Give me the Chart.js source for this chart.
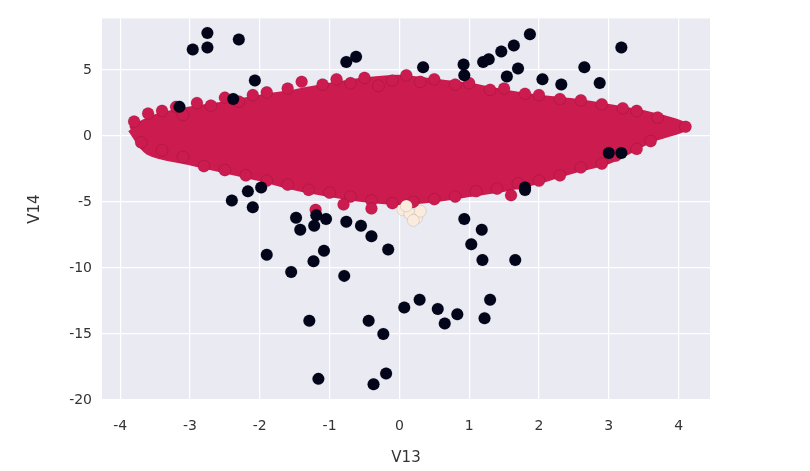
<!DOCTYPE html>
<html><head><meta charset="utf-8">
<script src="https://cdn.jsdelivr.net/npm/chart.js@4"></script>
<style>body{margin:0;background:#fff}#c{width:810px;height:471px}</style>
</head><body><div id="c"><canvas id="chart"></canvas></div>
<script>
// outline of the dense red cloud (V13, V14)
var blobX = [-3.85,-3.5,-3,-2.5,-2,-1.5,-1,-0.5,0,0.5,1,1.5,2,2.5,3,3.6,4.1,3.6,3,2.5,2,1.5,1,0.5,0,-0.5,-1,-1.5,-2,-2.5,-3,-3.6,-3.85];
var blobY = [0.5,1.4,2.0,2.4,2.9,3.3,3.8,4.2,4.4,4.1,3.8,3.3,2.9,2.6,2.2,1.6,0.7,-0.3,-1.9,-2.6,-3.4,-4.0,-4.4,-4.8,-5.0,-4.8,-4.4,-3.9,-3.2,-2.6,-2.0,-1.2,0.5];
// scattered red points along the cloud edge
var redX = [-3.8,-3.6,-3.4,-3.2,-3.1,-2.9,-2.7,-2.5,-2.3,-2.1,-1.9,-1.6,-1.4,-1.1,-0.9,-0.7,-0.5,-0.3,-0.1,0.1,0.3,0.5,0.8,1.0,1.3,1.5,1.8,2.0,2.3,2.6,2.9,3.2,3.4,3.7,4.1,
  -3.7,-3.4,-3.1,-2.8,-2.5,-2.2,-1.9,-1.6,-1.3,-1.0,-0.7,-0.4,-0.1,0.2,0.5,0.8,1.1,1.4,1.7,2.0,2.3,2.6,2.9,3.1,3.4,3.6,-1.2,-0.8,1.6,-0.4];
var redY = [1.1,1.7,1.9,2.2,1.6,2.5,2.3,2.9,2.6,3.1,3.3,3.6,4.1,3.9,4.3,4.0,4.4,3.8,4.2,4.6,4.1,4.3,3.9,4.0,3.5,3.6,3.2,3.1,2.8,2.7,2.4,2.1,1.9,1.4,0.7,
  -0.5,-1.1,-1.6,-2.3,-2.6,-3.0,-3.4,-3.7,-4.1,-4.3,-4.6,-4.9,-5.1,-5.0,-4.8,-4.6,-4.2,-4.0,-3.6,-3.4,-3.0,-2.4,-2.1,-1.5,-1.0,-0.4,-5.6,-5.2,-4.5,-5.5];
var blackX = [-2.96,-2.75,-2.75,-2.3,-2.07,-2.38,-3.15,-0.76,-0.62,0.34,0.92,0.93,1.2,1.28,1.46,1.64,1.7,1.87,1.54,2.05,2.32,2.65,3.18,3.0,3.18,1.8,1.8,-2.4,-2.17,-1.98,-2.1,-1.9,-1.42,-1.48,-1.19,-1.05,-1.22,-1.55,-1.23,-1.08,-0.79,-0.76,-0.55,-0.4,-0.16,-1.29,-1.16,-0.44,-0.23,-0.37,-0.19,0.07,0.29,0.55,0.65,0.83,0.93,1.03,1.18,1.19,1.22,1.3,1.66,2.87];
var blackY = [6.55,7.8,6.7,7.3,4.2,2.8,2.2,5.6,6.0,5.2,5.4,4.6,5.6,5.8,6.4,6.85,5.1,7.7,4.5,4.3,3.9,5.2,6.7,-1.3,-1.3,-3.9,-4.1,-4.9,-4.2,-3.9,-5.4,-9.0,-7.1,-6.2,-6.0,-6.3,-6.8,-10.3,-9.5,-8.7,-10.6,-6.5,-6.8,-7.6,-8.6,-14.0,-18.4,-14.0,-15.0,-18.8,-18.0,-13.0,-12.4,-13.1,-14.2,-13.5,-6.3,-8.2,-7.1,-9.4,-13.8,-12.4,-9.4,4.0];
var beigeX = [0.05,0.15,0.25,0.3,0.2,0.1];
var beigeY = [-5.6,-5.9,-6.2,-5.7,-6.4,-5.3];
var xTicks = [-4,-3,-2,-1,0,1,2,3,4];
var yTicks = [-20,-15,-10,-5,0,5];

function pts(xs, ys){ return xs.map(function(x,i){ return {x:x, y:ys[i]}; }); }
var RED = '#cb1b4f';

var bgPlugin = {
  id: 'bg',
  beforeDraw: function(ch){
    var a = ch.chartArea, c = ch.ctx;
    c.save(); c.fillStyle = '#eaeaf2'; c.fillRect(a.left, a.top, a.right-a.left, a.bottom-a.top); c.restore();
  }
};

new Chart(document.getElementById('chart'), {
  type: 'scatter',
  data: { datasets: [
    {data: pts(beigeX, beigeY), backgroundColor: '#faebdd', pointRadius: 6, order: 0},
    {data: pts(blackX, blackY), backgroundColor: '#03051a', pointRadius: 6, order: 1},
    {data: pts(redX, redY), backgroundColor: RED, pointRadius: 6, order: 2},
    {type: 'line', data: pts(blobX, blobY), showLine: true, fill: 'shape', tension: 0.3, backgroundColor: RED, borderColor: RED, borderWidth: 6, pointRadius: 0, order: 3}
  ]},
  options: {
    responsive: true, maintainAspectRatio: false, animation: false,
    layout: {padding: {top: 10, right: 100, left: 0, bottom: 0}},
    plugins: {legend: {display: false}, tooltip: {enabled: false}},
    scales: {
      x: {type: 'linear', min: -4.26, max: 4.45,
        afterBuildTicks: function(s){ s.ticks = xTicks.map(function(v){ return {value: v}; }); },
        afterFit: function(s){ s.height = 71; },
        grid: {color: '#fff', lineWidth: 1.2, drawTicks: false}, border: {display: false},
        ticks: {color: '#333', font: {family: 'DejaVu Sans', size: 14}, padding: 18},
        title: {display: true, text: 'V13', color: '#333', font: {family: 'DejaVu Sans', size: 15}, padding: {top: 0}}},
      y: {min: -20, max: 8.9,
        afterBuildTicks: function(s){ s.ticks = yTicks.map(function(v){ return {value: v}; }); },
        afterFit: function(s){ s.width = 102; },
        grid: {color: '#fff', lineWidth: 1.2, drawTicks: false}, border: {display: false},
        ticks: {color: '#333', font: {family: 'DejaVu Sans', size: 14}, padding: 10},
        title: {display: true, text: 'V14', color: '#333', font: {family: 'DejaVu Sans', size: 15}, padding: {bottom: 0, top: 26}}}
    }
  },
  plugins: [bgPlugin]
});
</script></body></html>
